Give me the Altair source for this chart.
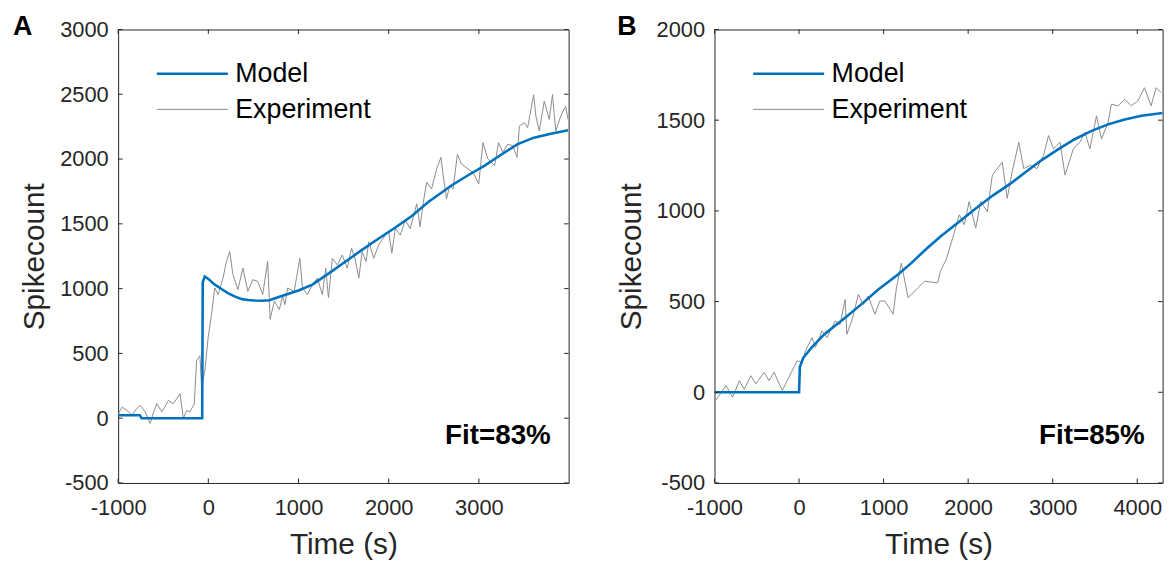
import altair as alt
import pandas as pd

FONT = "Liberation Sans"
BLUE = "#0072BD"
GRAY = "#8c8c8c"
AXC = "#262626"

series_names = ["Model", "Experiment"]
panel_letters = ["A", "B"]
fit_labels = ["Fit=83%", "Fit=85%"]

# ---------------- Panel A ----------------
a_model_t = [-1000, -760, -740, -68, -62, -40, 0, 72, 150, 218, 290, 366, 440, 512, 600, 677,
             806, 1000, 1154, 1340, 1522, 1700, 1889, 2070, 2256, 2439, 2696, 2880, 3064,
             3250, 3430, 3610, 3797, 3990]
a_model_v = [23, 23, 0, 0, 1050, 1094, 1075, 1031, 995, 966, 940, 920, 912, 908, 907, 910,
             941, 985, 1031, 1120, 1209, 1297, 1387, 1470, 1560, 1668, 1796, 1875, 1949,
             2035, 2115, 2165, 2196, 2222]

a_exp_t = [-1000, -956, -901, -846, -800, -754, -699, -644, -610, -571, -516, -480, -443,
           -388, -350, -314, -277, -240, -204, -156, -130, -93, -75, -38, -2, 35, 72, 108,
           163, 200, 237, 273, 328, 383, 438, 493, 548, 603, 658, 685, 732, 787, 824, 850,
           879, 952, 1015, 1044, 1099, 1154, 1209, 1264, 1302, 1332, 1375, 1430, 1485,
           1540, 1588, 1625, 1669, 1705, 1749, 1779, 1834, 1889, 1963, 2000, 2035, 2073,
           2128, 2183, 2238, 2311, 2348, 2384, 2421, 2476, 2531, 2579, 2604, 2641, 2678,
           2714, 2762, 2806, 2880, 2935, 2998, 3045, 3100, 3174, 3218, 3265, 3321, 3375,
           3423, 3449, 3504, 3540, 3607, 3632, 3669, 3725, 3780, 3816, 3852, 3907, 3962,
           3988]
a_exp_v = [30, 86, 60, 23, 70, 99, 48, -41, 40, 112, 48, 90, 137,
           112, 150, 189, -4, 60, 48, 112, 444, 482, 239, 367, 622, 801, 1005, 954,
           1081, 1209, 1286, 1107, 992, 1158, 979, 1069, 1056, 954, 1209, 763, 903, 839,
           941, 877, 1005, 979, 1234, 1005, 954, 1030, 1081, 954, 1158, 928, 1234, 1183,
           1260, 1158, 1311, 1234, 1081, 1286, 1209, 1362, 1234, 1337, 1413, 1439, 1273,
           1464, 1413, 1528, 1464, 1655, 1477, 1668, 1821, 1770, 1923, 2013, 1872, 1694,
           1796, 1770, 2038, 1962, 1923, 1898, 1808, 2127, 2000, 1949, 2127, 2051, 2115,
           2102, 2013, 2255, 2280, 2242, 2497, 2331, 2217, 2447, 2306, 2497, 2217, 2331,
           2408, 2306]

a_xdomain = [-1000, 3995]
a_ydomain = [-500, 3000]
a_xticks = [-1000, 0, 1000, 2000, 3000]
a_yticks = [-500, 0, 500, 1000, 1500, 2000, 2500, 3000]

# ---------------- Panel B ----------------
b_model_t = [-1000, 0, 10, 50, 150, 300, 545, 750, 937, 1171, 1327, 1504, 1680, 1894,
             2086, 2286, 2500, 2677, 2870, 3068, 3260, 3460, 3655, 3851, 4050, 4300]
b_model_v = [0, 0, 140, 190, 247, 320, 411, 490, 567, 649, 712, 790, 862, 940,
             1012, 1083, 1150, 1213, 1280, 1340, 1395, 1441, 1477, 1504, 1525, 1540]

b_exp_t = [-1000, -864, -785, -707, -648, -570, -512, -413, -355, -296, -198, -140, -81,
           -22, 37, 75, 154, 193, 271, 329, 427, 486, 545, 565, 623, 702, 760, 819, 897,
           956, 1015, 1113, 1152, 1210, 1289, 1406, 1484, 1641, 1672, 1739, 1817, 1895,
           1954, 2012, 2090, 2149, 2227, 2286, 2344, 2403, 2462, 2520, 2599, 2657, 2736,
           2814, 2892, 2951, 3009, 3087, 3146, 3244, 3322, 3381, 3440, 3518, 3577, 3655,
           3694, 3772, 3851, 3929, 4007, 4086, 4164, 4223, 4282]
b_exp_v = [-54, 37, -27, 64, 17, 91, 46, 110, 64, 110, 10, 64, 119,
           174, 165, 228, 301, 247, 338, 301, 393, 374, 512, 320, 393, 539, 484, 530, 430,
           503, 503, 430, 576, 712, 521, 576, 612, 603, 667, 731, 850, 978,
           924, 1051, 905, 1051, 996, 1197, 1233, 1268, 1069, 1215, 1378, 1233, 1251,
           1233, 1306, 1415, 1342, 1378, 1197, 1342, 1378, 1433, 1342, 1524, 1396, 1488,
           1588, 1579, 1615, 1579, 1606, 1679, 1579, 1679, 1652]

b_xdomain = [-1000, 4300]
b_ydomain = [-500, 2000]
b_xticks = [-1000, 0, 1000, 2000, 3000, 4000]
b_yticks = [-500, 0, 500, 1000, 1500, 2000]

H = 457
TICK = 4.5


def panel(letter, fit, mt, mv, et, ev, xdom, ydom, xticks, yticks, W, letter_dx):
    xs = alt.Scale(domain=xdom, nice=False, zero=False)
    ys = alt.Scale(domain=ydom, nice=False, zero=False)
    xaxis = alt.Axis(values=xticks, title="Time (s)", ticks=False, grid=False, domain=False,
                     labelExpr="'' + datum.value", labelFontSize=22, labelPadding=15,
                     titleFontSize=30, titleFontWeight="normal", titleY=71,
                     titleBaseline="alphabetic", labelFlush=False)
    yaxis = alt.Axis(values=yticks, title="Spikecount", ticks=False, grid=False, domain=False,
                     labelExpr="'' + datum.value", labelFontSize=22, labelPadding=10,
                     titleFontSize=30, titleFontWeight="normal", titleX=-75, titleY=H / 2,
                     titleAngle=-90, titleBaseline="alphabetic", titleAlign="center",
                     labelFlush=False)

    exp_df = pd.DataFrame({"t": et, "v": ev})
    mod_df = pd.DataFrame({"t": mt, "v": mv})
    xt_df = pd.DataFrame({"t": xticks})
    yt_df = pd.DataFrame({"v": yticks})

    base_exp = alt.Chart(exp_df).mark_line(color=GRAY, strokeWidth=1, clip=True).encode(
        x=alt.X("t:Q", scale=xs, axis=xaxis),
        y=alt.Y("v:Q", scale=ys, axis=yaxis),
    )
    model = alt.Chart(mod_df).mark_line(color=BLUE, strokeWidth=2.6, clip=True).encode(
        x=alt.X("t:Q", scale=xs), y=alt.Y("v:Q", scale=ys)
    )

    xt_bot = alt.Chart(xt_df).mark_rule(color=AXC, strokeWidth=1).encode(
        x=alt.X("t:Q", scale=xs), y=alt.value(H), y2=alt.value(H - TICK))
    xt_top = alt.Chart(xt_df).mark_rule(color=AXC, strokeWidth=1).encode(
        x=alt.X("t:Q", scale=xs), y=alt.value(0), y2=alt.value(TICK))
    yt_left = alt.Chart(yt_df).mark_rule(color=AXC, strokeWidth=1).encode(
        y=alt.Y("v:Q", scale=ys), x=alt.value(0), x2=alt.value(TICK))
    yt_right = alt.Chart(yt_df).mark_rule(color=AXC, strokeWidth=1).encode(
        y=alt.Y("v:Q", scale=ys), x=alt.value(W), x2=alt.value(W - TICK))

    leg_m = pd.DataFrame({"name": [series_names[0]]})
    leg_e = pd.DataFrame({"name": [series_names[1]]})
    lm_line = alt.Chart(leg_m).mark_rule(color=BLUE, strokeWidth=2.6).encode(
        x=alt.value(39), x2=alt.value(110.5), y=alt.value(44.6))
    le_line = alt.Chart(leg_e).mark_rule(color=GRAY, strokeWidth=1).encode(
        x=alt.value(39), x2=alt.value(110.5), y=alt.value(80.5))
    lm_text = alt.Chart(leg_m).mark_text(align="left", baseline="middle", fontSize=27,
                                         font=FONT, color="#000000").encode(
        x=alt.value(118), y=alt.value(45), text="name:N")
    le_text = alt.Chart(leg_e).mark_text(align="left", baseline="middle", fontSize=27,
                                         font=FONT, color="#000000").encode(
        x=alt.value(118), y=alt.value(81), text="name:N")

    fit_df = pd.DataFrame({"label": [fit]})
    fit_text = alt.Chart(fit_df).mark_text(align="right", baseline="middle", fontSize=28,
                                           fontWeight="bold", font=FONT, color="#000000").encode(
        x=alt.value(W - 18), y=alt.value(410), text="label:N")

    let_df = pd.DataFrame({"label": [letter]})
    let_text = alt.Chart(let_df).mark_text(align="left", baseline="top", fontSize=27,
                                           fontWeight="bold", font=FONT, color="#000000").encode(
        x=alt.value(letter_dx), y=alt.value(-15), text="label:N")

    return alt.layer(base_exp, model, xt_bot, xt_top, yt_left, yt_right,
                     lm_line, le_line, lm_text, le_text, fit_text, let_text).properties(
        width=W, height=H)


pa = panel(panel_letters[0], fit_labels[0], a_model_t, a_model_v, a_exp_t, a_exp_v,
           a_xdomain, a_ydomain, a_xticks, a_yticks, 454, -106)
pb = panel(panel_letters[1], fit_labels[1], b_model_t, b_model_v, b_exp_t, b_exp_v,
           b_xdomain, b_ydomain, b_xticks, b_yticks, 451.6, -98)

chart = alt.hconcat(pa, pb, spacing=46).resolve_scale(x="independent", y="independent").properties(
    padding={"left": 4, "top": 2.5, "right": 0, "bottom": 0}
).configure_view(stroke=AXC, strokeWidth=1).configure_axis(
    labelFont=FONT, titleFont=FONT, labelColor=AXC, titleColor=AXC
).configure_text(font=FONT)

chart.save("out.html", embed_options={"renderer": "svg", "actions": False})
